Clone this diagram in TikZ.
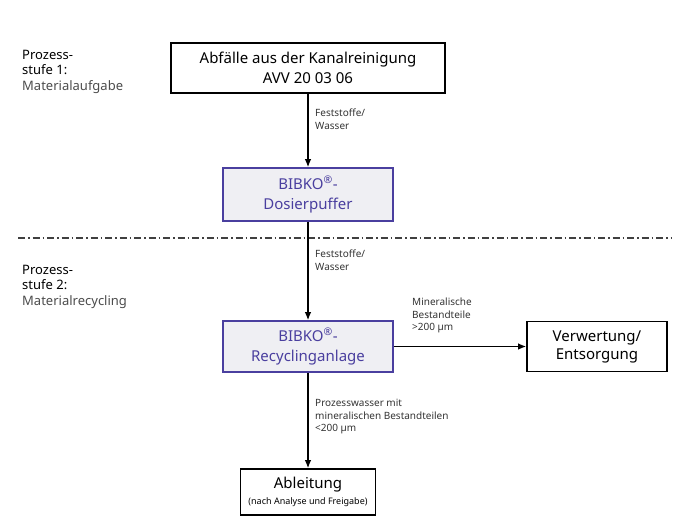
\documentclass[tikz,border=0pt]{standalone}
\usepackage{fontspec}
\setmainfont{Noto Sans}
\usetikzlibrary{arrows.meta, positioning}
\definecolor{bibkoblue}{HTML}{4A3F9F}
\definecolor{bibkofill}{HTML}{EFEFF3}

\begin{document}
\begin{tikzpicture}
        [
        x=1pt, y=-1pt,
        box/.style={draw, line width=1.6pt, align=center, inner sep=0pt, font=\fontsize{15}{20}\selectfont},
        bibko/.style={box, draw=bibkoblue, fill=bibkofill, text=bibkoblue},
        flow/.style={line width=1.3pt, -{Latex[length=8pt, width=6.5pt]}},
        note/.style={anchor=north west, align=left, inner sep=0pt, font=\fontsize{10}{12.5}\selectfont, text=black!80},
        stage/.style={anchor=north west, align=left, inner sep=0pt, font=\fontsize{13}{15.5}\selectfont},
        divider/.style={line width=1.3pt, black!75, dash pattern=on 7pt off 3pt on 1.5pt off 3pt}
        ]

        \useasboundingbox (0,0) rectangle (681,528);

        % stage labels
        \node[stage] (stufe1) at (22,50) {Prozess-\\stufe 1:\\\textcolor{black!70}{Materialaufgabe}};
        \node[stage] (stufe2) at (22,265) {Prozess-\\stufe 2:\\\textcolor{black!70}{Materialrecycling}};

        % boundary between the two stages
        \coordinate (trennL) at (18,238);
        \coordinate (trennR) at (672,238);
        \draw[divider] (trennL) -- (trennR);

        \node[box, minimum width=274pt, minimum height=50pt] (abfall) at (308,68) {Abfälle aus der Kanalreinigung\\AVV 20 03 06};
        \node[bibko, minimum width=170pt, minimum height=53pt] (puffer) at (308,194.5) {BIBKO\textsuperscript{®}-\\Dosierpuffer};
        \node[bibko, minimum width=170pt, minimum height=51pt] (anlage) at (308,346.5) {BIBKO\textsuperscript{®}-\\Recyclinganlage};
        \node[box, minimum width=140pt, minimum height=50pt, font=\fontsize{15}{18}\selectfont] (verwertung) at (597,346.5) {Verwertung/\\Entsorgung};
        \node[box, minimum width=135pt, minimum height=46pt, font=\fontsize{15}{16}\selectfont] (ableitung) at (308,492) {Ableitung\\{\fontsize{9}{11}\selectfont(nach Analyse und Freigabe)}};

        \draw[flow] (abfall) -- (puffer);
        \draw[flow] (puffer) -- (anlage);
        \draw[flow] (anlage.east) -- (anlage.east -| verwertung.west);
        \draw[flow] (anlage) -- (ableitung);

        \node[note] (fest1) at (315,109) {Feststoffe/\\Wasser};
        \node[note] (fest2) at (315,250) {Feststoffe/\\Wasser};
        \node[note] (grob) at (412,298) {Mineralische\\Bestandteile\\>200 µm};
        \node[note] (fein) at (315,399) {Prozesswasser mit\\mineralischen Bestandteilen\\<200 µm};

\end{tikzpicture}
\end{document}
